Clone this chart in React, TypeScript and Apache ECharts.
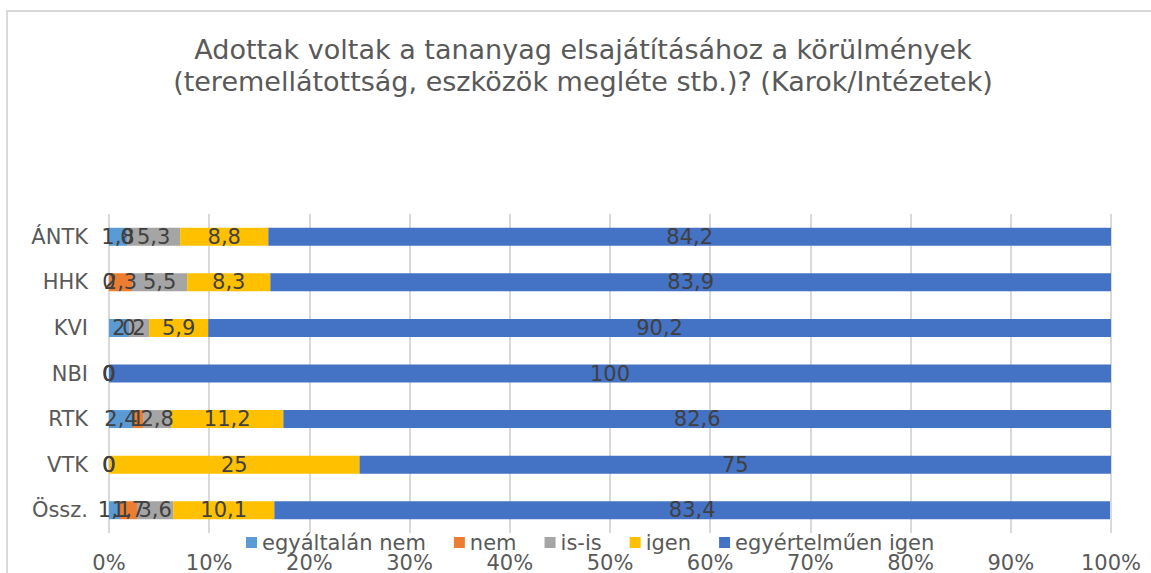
import React, { useEffect, useRef } from "react";
import * as echarts from "echarts";

const categories = ["ÁNTK", "HHK", "KVI", "NBI", "RTK", "VTK", "Össz."];
const seriesNames = ["egyáltalán nem", "nem", "is-is", "igen", "egyértelműen igen"];
const egyaltalanNem = [1.8, 0, 2, 0, 2.4, 0, 1.1];
const nem = [0, 2.3, 0, 0, 1, 0, 1.7];
const isis = [5.3, 5.5, 2, 0, 2.8, 0, 3.6];
const igen = [8.8, 8.3, 5.9, 0, 11.2, 25, 10.1];
const egyertelmuenIgen = [84.2, 83.9, 90.2, 100, 82.6, 75, 83.4];
const colors = ["#5B9BD5", "#ED7D31", "#A5A5A5", "#FFC000", "#4472C4"];
const titleText =
  "Adottak voltak a tananyag elsajátításához a körülmények\n(teremellátottság, eszközök megléte stb.)? (Karok/Intézetek)";

export default function App() {
  const ref = useRef<HTMLDivElement>(null);
  useEffect(() => {
    document.body.style.margin = "0";
    const chart = echarts.init(ref.current!, null, { renderer: "svg" });
    const data = [egyaltalanNem, nem, isis, igen, egyertelmuenIgen];
    const font = "DejaVu Sans";
    chart.setOption({
      animation: false,
      textStyle: { fontFamily: font },
      color: colors,
      title: {
        text: titleText,
        left: 578,
        textAlign: "center",
        top: 28,
        textStyle: {
          fontFamily: font,
          fontSize: 27,
          fontWeight: "normal",
          color: "#595959",
          lineHeight: 32,
        },
      },
      graphic: [
        {
          type: "rect",
          shape: { x: 7, y: 11, width: 1200, height: 700 },
          style: { fill: "none", stroke: "#d9d9d9", lineWidth: 2 },
          silent: true,
        },
      ],
      legend: {
        left: 241,
        top: 527,
        itemWidth: 11,
        itemHeight: 11,
        itemGap: 28,
        icon: "rect",
        textStyle: { fontFamily: font, fontSize: 21, color: "#595959" },
        data: seriesNames,
      },
      grid: { left: 109, right: 40, top: 214, bottom: 40, containLabel: false },
      xAxis: {
        type: "value",
        min: 0,
        max: 100,
        interval: 10,
        axisLine: { show: false },
        axisTick: { show: false },
        splitLine: { lineStyle: { color: "#d9d9d9", width: 2 } },
        axisLabel: {
          formatter: (v: number) => v + "%",
          fontFamily: font,
          fontSize: 21,
          color: "#595959",
          margin: 19,
        },
      },
      yAxis: {
        type: "category",
        inverse: true,
        data: categories,
        axisLine: { show: false },
        axisTick: { show: false },
        axisLabel: { fontFamily: font, fontSize: 21, color: "#595959", margin: 21 },
      },
      series: seriesNames.map((name, i) => ({
        name,
        type: "bar",
        stack: "total",
        barWidth: 18,
        data: data[i],
        label: {
          show: true,
          position: "inside",
          fontFamily: font,
          fontSize: 21,
          color: "#404040",
          formatter: (p: any) => String(p.value).replace(".", ","),
        },
      })),
    });
    return () => chart.dispose();
  }, []);
  return <div ref={ref} style={{ width: 1151, height: 573 }} />;
}
